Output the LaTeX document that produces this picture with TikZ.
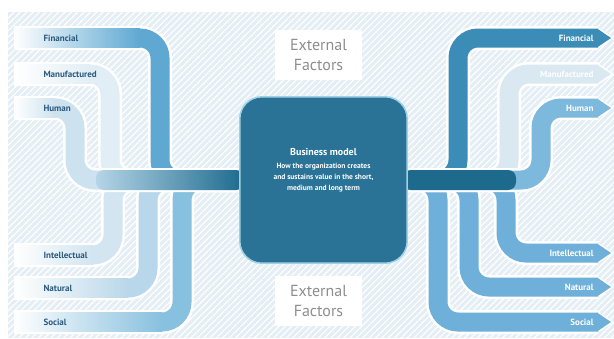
\documentclass[tikz,border=0pt]{standalone}
\usepackage{fontspec}
\setmainfont{PT Sans}
\usetikzlibrary{patterns.meta}

\definecolor{bgblue}{HTML}{E4EEF4}
\definecolor{labelblue}{HTML}{2A5A7E}
\definecolor{extgrey}{HTML}{8E8E8E}
\definecolor{boxfill}{HTML}{2A7396}
\definecolor{boxline}{HTML}{9FD0E4}
\definecolor{bardark}{HTML}{1D6A8D}
\definecolor{barlight}{HTML}{B5D5E7}
% Bänder links
\definecolor{finL}{HTML}{5EA8D2}
\definecolor{manL}{HTML}{E2EEF5}
\definecolor{humL}{HTML}{CDE2EF}
\definecolor{intL}{HTML}{D2E5F0}
\definecolor{natL}{HTML}{B9D7EA}
\definecolor{socL}{HTML}{88C0DF}
% Bänder rechts
\definecolor{finR}{HTML}{3B8CB6}
\definecolor{manR}{HTML}{D9E8F1}
\definecolor{humR}{HTML}{7DB8DD}
\definecolor{lowR}{HTML}{6EB0D9}

\tikzset{
	halo/.style = {white, line width = 24, rounded corners = 20},
	ribbon/.style = {line width = 19, rounded corners = 20},
	capital/.style = {font = \fontsize{9}{10}\selectfont\bfseries},
	factor/.style = {fill = white, text = extgrey, align = center, minimum width = 87, minimum height = 50, font = \fontsize{16}{20}\selectfont},
}

\begin{document}
\begin{tikzpicture}[yscale = -1, x = 1pt, y = 1pt]
	\useasboundingbox (0, 0) rectangle (614, 338);
	\fill[white] (0, 0) rectangle (614, 338);

	% Hintergrund:
	\fill[bgblue] (8, 12) rectangle (614, 338);
	\fill[pattern = {Lines[angle = 45, distance = 4.5pt, line width = 1.2pt]}, pattern color = white] (8, 12) rectangle (614, 338);

	% Platz für das Geschäftsmodell
	\node (model) [minimum width = 167, minimum height = 166, inner sep = 0] at (323.5, 180) {};

	% Kapitalien links
	\foreach \y/\x/\c/\n/\lbl in {38/160/finL/fin/Financial, 74/110/manL/man/Manufactured, 255/113/intL/int/Intellectual, 288/148/natL/nat/Natural, 322/182/socL/soc/Social, 108/75/humL/hum/Human} {
		\draw[halo] (14, \y) -- (\x, \y) -- (\x, 180) -- (model.west);
		\draw[ribbon, \c] (14, \y) -- (\x, \y) -- (\x, 180) -- (model.west);
		\shade[left color = white, middle color = white, right color = \c] (14, \y - 9.5) rectangle (\x - 20, \y + 9.5);
		\node (\n L) [capital, text = labelblue, anchor = west] at (40, \y) {\lbl};
	}

	% Kapitalien rechts
	\foreach \y/\x/\c/\n/\lbl in {38/458/finR/fin/Financial, 74/509/manR/man/Manufactured, 322/438/lowR/soc/Social, 287/469/lowR/nat/Natural, 253/506/lowR/int/Intellectual, 108/541/humR/hum/Human} {
		\draw[halo] (model.east) -- (\x, 180) -- (\x, \y) -- (598, \y);
		\fill[white] (596, \y - 12) -- (614, \y) -- (596, \y + 12) -- cycle;
		\draw[ribbon, \c] (model.east) -- (\x, 180) -- (\x, \y) -- (598, \y);
		\fill[\c] (597, \y - 9.5) -- (611, \y) -- (597, \y + 9.5) -- cycle;
		\node (\n R) [capital, text = white, anchor = east] at (597, \y) {\lbl};
	}

	% Sammelbalken
	\shade[left color = barlight, middle color = bardark, right color = bardark, rounded corners = 8] (96, 170) rectangle (244, 190);
	\fill[bardark, rounded corners = 8] (403, 170) rectangle (516, 190);

	% Geschäftsmodell
	\draw[draw = boxline, fill = boxfill, line width = 1.5, rounded corners = 22] (model.north west) rectangle (model.south east);
	\node (modeltext) [text = white, align = center, font = \fontsize{7.5}{11}\selectfont\bfseries] at (323.5, 170) {{\fontsize{10}{12}\selectfont Business model}\\[2pt] How the organization creates\\and sustains value in the short,\\medium and long term};

	% Externe Faktoren
	\node (extTop) [factor] at (318.5, 55) {External\\Factors};
	\node (extBot) [factor] at (318.5, 301) {External\\Factors};
\end{tikzpicture}
\end{document}
